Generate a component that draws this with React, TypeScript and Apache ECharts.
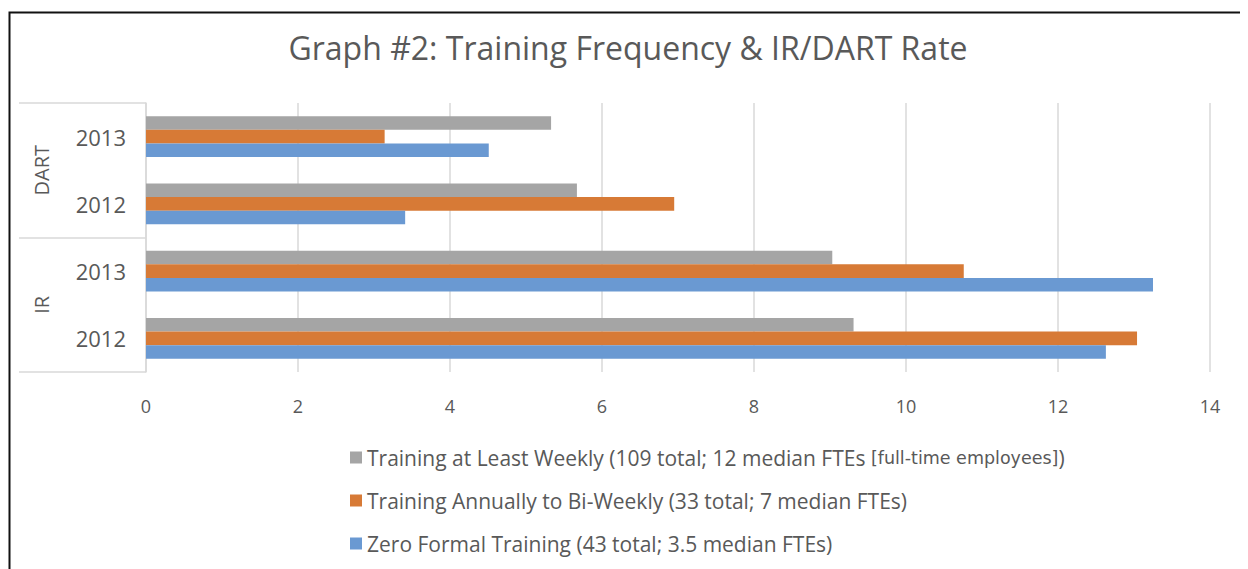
import React, { useEffect, useRef } from "react";
import * as echarts from "echarts";

const categories = ["IR|2012", "IR|2013", "DART|2012", "DART|2013"];
const groups = ["IR", "DART"];
const weekly = [9.31, 9.03, 5.67, 5.33];
const annual = [13.04, 10.76, 6.95, 3.14];
const zero = [12.63, 13.25, 3.41, 4.51];
const xTicks = { min: 0, max: 14, interval: 2 };

const nameWeekly = "Training at Least Weekly (109 total; 12 median FTEs [full-time employees])";
const nameAnnual = "Training Annually to Bi-Weekly (33 total; 7 median FTEs)";
const nameZero = "Zero Formal Training (43 total; 3.5 median FTEs)";

const FONT = "Open Sans";
const TEXT = "#595959";
const GRID = "#d9d9d9";

export default function App() {
  const ref = useRef<HTMLDivElement>(null);
  useEffect(() => {
    if (!ref.current) return;
    const chart = echarts.init(ref.current, undefined, { renderer: "svg" });
    const barStyle = { barWidth: 13.6, barGap: "0%" };
    chart.setOption({
      animation: false,
      backgroundColor: "#ffffff",
      textStyle: { fontFamily: FONT },
      title: {
        text: "Graph #2: Training Frequency & IR/DART Rate",
        left: "center",
        top: 18,
        textStyle: { fontFamily: FONT, fontSize: 32, fontWeight: "normal", color: TEXT },
      },
      graphic: [
        {
          type: "rect",
          shape: { x: 1.5, y: 4.5, width: 1300, height: 600 },
          style: { fill: "none", stroke: "#111", lineWidth: 2 },
          silent: true,
        },
      ],
      grid: { left: 138, right: 38, top: 95, bottom: 197 },
      legend: {
        orient: "vertical",
        left: 337,
        top: 434,
        itemGap: 22,
        itemWidth: 12,
        itemHeight: 12,
        icon: "rect",
        data: [nameWeekly, nameAnnual, nameZero],
        formatter: (n: string) => {
          const i = n.indexOf("[");
          if (i >= 0) {
            const j = n.indexOf("]");
            return n.slice(0, i) + "{s|" + n.slice(i, j + 1) + "}" + n.slice(j + 1);
          }
          return n;
        },
        textStyle: {
          fontFamily: FONT,
          fontSize: 21,
          color: TEXT,
          padding: [0, 0, 0, 0],
          rich: { s: { fontFamily: "DejaVu Sans", fontSize: 17.5, color: TEXT } },
        },
      },
      xAxis: {
        type: "value",
        min: xTicks.min,
        max: xTicks.max,
        interval: xTicks.interval,
        axisLine: { show: false },
        axisTick: { show: false },
        splitLine: { show: true, lineStyle: { color: GRID, width: 1.5 } },
        axisLabel: { color: TEXT, fontSize: 18, margin: 25, fontFamily: FONT },
      },
      yAxis: [
        {
          type: "category",
          data: categories,
          axisLine: { show: true, lineStyle: { color: GRID, width: 1.5 } },
          axisTick: { show: false },
          axisLabel: {
            color: TEXT,
            fontSize: 22,
            margin: 20,
            fontFamily: FONT,
            formatter: (v: string) => v.split("|")[1],
          },
        },
        {
          type: "category",
          data: groups,
          position: "left",
          axisLine: { show: false },
          axisTick: { show: true, length: 127, lineStyle: { color: GRID, width: 1.5 } },
          axisLabel: {
            color: TEXT,
            fontSize: 20,
            margin: 95,
            rotate: 90,
            fontFamily: FONT,
          },
        },
      ],
      series: [
        { name: nameWeekly, type: "bar", data: weekly, itemStyle: { color: "#a5a5a5" }, ...barStyle },
        { name: nameAnnual, type: "bar", data: annual, itemStyle: { color: "#d77a36" }, ...barStyle },
        { name: nameZero, type: "bar", data: zero, itemStyle: { color: "#6a99d2" }, ...barStyle },
      ],
    });
    return () => chart.dispose();
  }, []);
  return <div ref={ref} style={{ width: 1240, height: 561 }} />;
}
